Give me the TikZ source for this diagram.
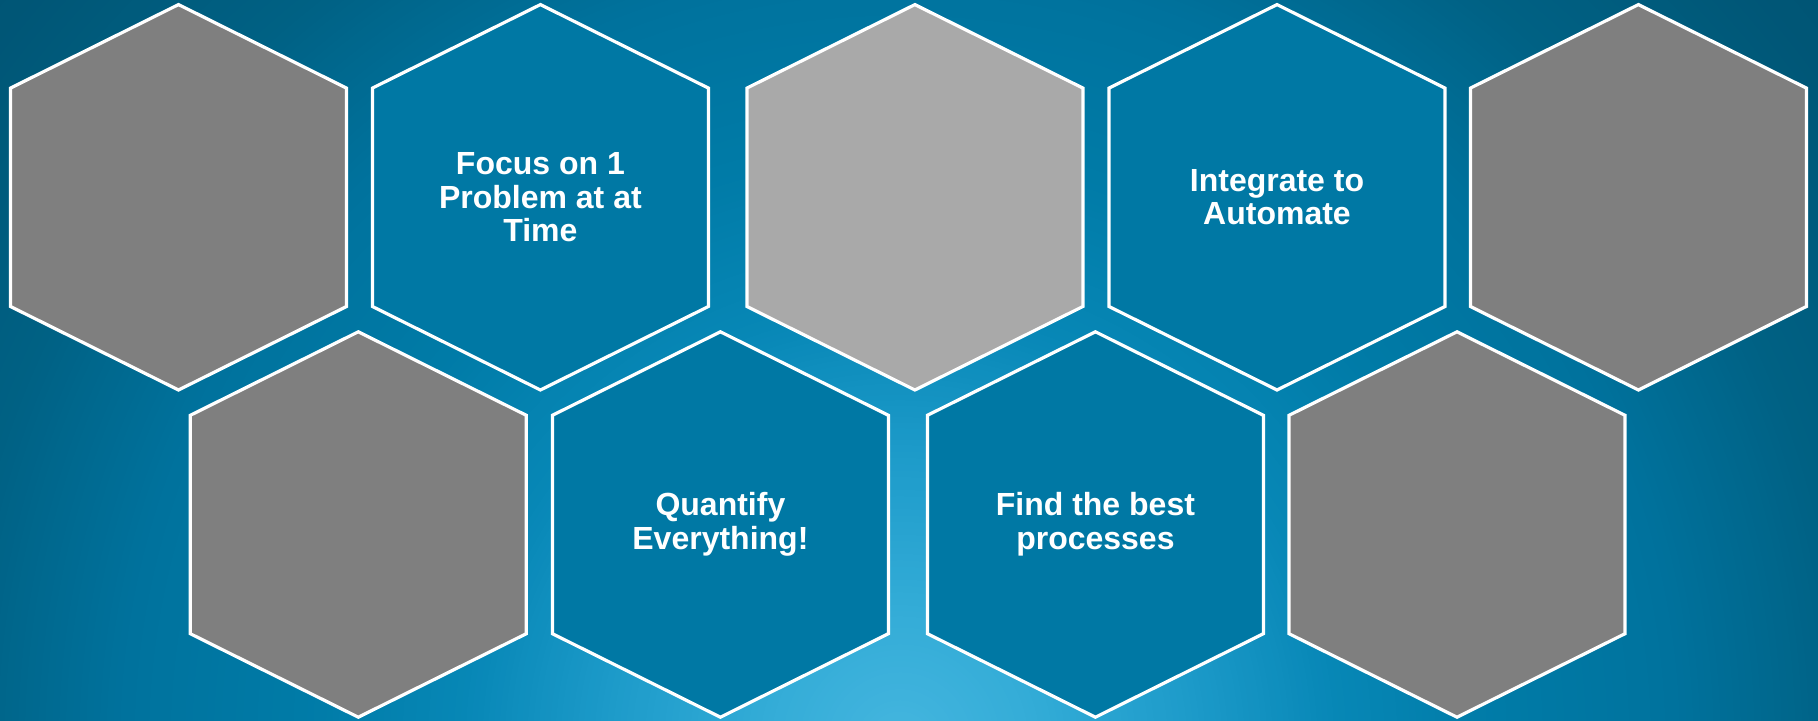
\documentclass[tikz,border=0pt]{standalone}
\usepackage{fontspec}
\setmainfont{Liberation Sans}
\definecolor{hexblue}{HTML}{0078A4}
\definecolor{hexgray}{HTML}{7F7F7F}
\definecolor{hexlight}{HTML}{A9A9A9}
\definecolor{gA}{HTML}{004E6A}
\definecolor{gB}{HTML}{005676}
\definecolor{gC}{HTML}{006184}
\definecolor{gD}{HTML}{00729D}
\definecolor{gE}{HTML}{007BA7}
\definecolor{gF}{HTML}{0787B6}
\definecolor{gG}{HTML}{1C9AC9}
\definecolor{gH}{HTML}{33ACD7}
\definecolor{gI}{HTML}{45B6DF}
\tikzset{
  hexline/.style={draw=white, line width=1.6pt, line join=miter},
  hexlabel/.style={text=white, font=\bfseries\fontsize{16pt}{16.8pt}\selectfont, align=center, inner sep=0pt}
}
\newcommand\gradseg[4]{%
  \foreach \k in {0,...,24}{%
    \pgfmathsetmacro\dd{#1-(#1-#2)*\k/25}%
    \pgfmathsetmacro\pp{4*\k}%
    \fill[#4!\pp!#3] (900,745) ellipse [x radius=\dd*0.5pt, y radius=\dd*0.5pt];
  }}
\newcommand\hexcell[2]{%
  \filldraw[hexline, fill=#2] (#1) ++(0,-192.7) -- ++(168,83.5) -- ++(0,218.4) -- ++(-168,83.5) -- ++(-168,-83.5) -- ++(0,-218.4) -- cycle;}
\begin{document}
\begin{tikzpicture}[x=0.5pt, y=-0.5pt]
\useasboundingbox (0,0) rectangle (1818,721);
\begin{scope}
  \clip (0,0) rectangle (1818,721);
  \fill[gA] (0,0) rectangle (1818,721);
  \gradseg{1500}{1150}{gA}{gB}
  \gradseg{1150}{950}{gB}{gC}
  \gradseg{950}{780}{gC}{gD}
  \gradseg{780}{600}{gD}{gE}
  \gradseg{600}{440}{gE}{gF}
  \gradseg{440}{300}{gF}{gG}
  \gradseg{300}{140}{gG}{gH}
  \gradseg{140}{0}{gH}{gI}
\end{scope}
% hexagon centres
\coordinate (h1) at (178.5,197.3);
\coordinate (h2) at (540.4,197.3);
\coordinate (h3) at (914.9,197.3);
\coordinate (h4) at (1277,197.3);
\coordinate (h5) at (1638.4,197.3);
\coordinate (h6) at (358.3,524.5);
\coordinate (h7) at (720.4,524.5);
\coordinate (h8) at (1095.4,524.5);
\coordinate (h9) at (1457,524.5);
\hexcell{h1}{hexgray}
\hexcell{h2}{hexblue}
\hexcell{h3}{hexlight}
\hexcell{h4}{hexblue}
\hexcell{h5}{hexgray}
\hexcell{h6}{hexgray}
\hexcell{h7}{hexblue}
\hexcell{h8}{hexblue}
\hexcell{h9}{hexgray}
\node[hexlabel] (t2) at (h2) {Focus on 1\\Problem at at\\Time};
\node[hexlabel] (t4) at (h4) {Integrate to\\Automate};
\node[hexlabel] (t7) at (h7) {Quantify\\Everything!};
\node[hexlabel] (t8) at (h8) {Find the best\\processes};
\end{tikzpicture}
\end{document}
